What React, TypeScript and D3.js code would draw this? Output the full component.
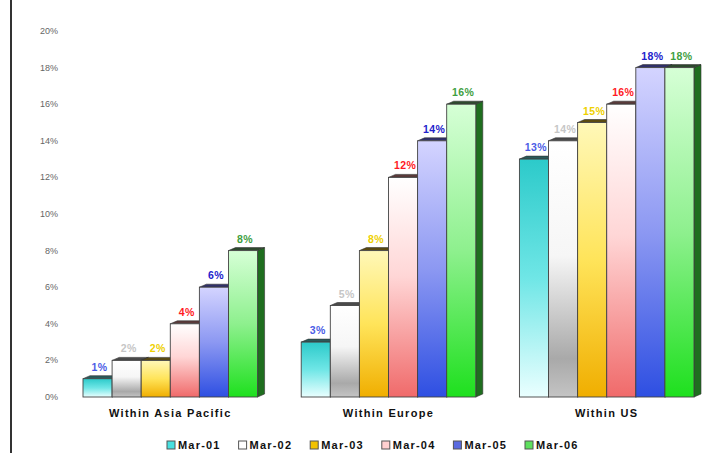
import React from "react";
import * as d3 from "d3";

const categories = ["Within Asia Pacific", "Within Europe", "Within US"];
const seriesNames = ["Mar-01", "Mar-02", "Mar-03", "Mar-04", "Mar-05", "Mar-06"];
// values in percent, one array per series, ordered like categories
const mar01 = [1, 3, 13];
const mar02 = [2, 5, 14];
const mar03 = [2, 8, 15];
const mar04 = [4, 12, 16];
const mar05 = [6, 14, 18];
const mar06 = [8, 16, 18];
const seriesValues = [mar01, mar02, mar03, mar04, mar05, mar06];
const yTicks = [0, 2, 4, 6, 8, 10, 12, 14, 16, 18, 20];

// gradient stops per series: [offset, colour]
const gradients: [number, string][][] = [
  [[0, "#2ccaca"], [0.5, "#6fe6e6"], [1, "#eaffff"]],
  [[0, "#ffffff"], [0.45, "#f6f6f6"], [0.85, "#a9a9a9"], [1, "#c4c4c4"]],
  [[0, "#fff8b8"], [0.5, "#ffe45a"], [1, "#f0ae00"]],
  [[0, "#ffffff"], [0.45, "#ffd6d6"], [1, "#f06a6a"]],
  [[0, "#d4d4ff"], [0.5, "#8c98f2"], [1, "#2e4fe2"]],
  [[0, "#d6ffd6"], [0.5, "#8ef08e"], [1, "#1ee01e"]],
];
const sideColors = ["#168a8a", "#707070", "#a07800", "#b04848", "#25359a", "#1f6e1f"];
const topColors = ["#2a5a5a", "#4a4a4a", "#5a4a10", "#5a3a3a", "#30306a", "#2e4a2e"];
const labelColors = ["#4b5ce6", "#c6c6c6", "#eed000", "#ff1a24", "#2222cc", "#3fa03f"];
const legendColors = ["#48e0e0", "#ffffff", "#f2c200", "#ffd0d0", "#5a6ae0", "#5ee05e"];

const W = 715;
const H = 453;
const DX = 7;
const DY = 3;

export default function App() {
  const y = d3.scaleLinear().domain([0, 20]).range([397, 31]);
  const x0 = d3.scaleBand<string>().domain(categories).range([83, 694]).paddingInner(0.2);
  const x1 = d3
    .scaleBand<string>()
    .domain(seriesNames)
    .range([0, x0.bandwidth()])
    .padding(0);
  const bw = x1.bandwidth();
  const font = "Arial, 'Liberation Sans', sans-serif";

  const legendStart = 167;
  const legendStep = 71.6;

  return (
    <svg
      width={W}
      height={H}
      style={{ position: "absolute", left: 0, top: 0, background: "#fff" }}
      fontFamily={font}
    >
      <defs>
        {gradients.map((stops, i) => (
          <linearGradient key={i} id={`g${i}`} x1="0" y1="0" x2="0" y2="1">
            {stops.map(([o, c], j) => (
              <stop key={j} offset={o} stopColor={c} />
            ))}
          </linearGradient>
        ))}
      </defs>

      {/* frame line on the left */}
      <line x1={11} x2={11} y1={0} y2={H} stroke="#333" strokeWidth={2} />

      {/* y axis tick labels */}
      {yTicks.map((t) => (
        <text
          key={t}
          x={58}
          y={y(t) + 3}
          textAnchor="end"
          fontSize={9}
          fill="#666"
        >
          {t}%
        </text>
      ))}

      {/* bars */}
      {categories.map((cat, ci) => (
        <g key={cat} transform={`translate(${x0(cat)},0)`}>
          {seriesNames.map((s, si) => {
            const v = seriesValues[si][ci];
            const bx = x1(s)!;
            const top = y(v);
            const base = y(0);
            return (
              <g key={s}>
                {/* right side face */}
                <path
                  d={`M${bx + bw},${top} L${bx + bw + DX},${top - DY} L${bx + bw + DX},${base - DY} L${bx + bw},${base} Z`}
                  fill={sideColors[si]}
                  stroke="#333"
                  strokeWidth={0.6}
                />
                {/* top face */}
                <path
                  d={`M${bx},${top} L${bx + DX},${top - DY} L${bx + bw + DX},${top - DY} L${bx + bw},${top} Z`}
                  fill={topColors[si]}
                  stroke="#333"
                  strokeWidth={0.6}
                />
                {/* front face */}
                <rect
                  x={bx}
                  y={top}
                  width={bw}
                  height={base - top}
                  fill={`url(#g${si})`}
                  stroke="#444"
                  strokeWidth={0.9}
                />
              </g>
            );
          })}
          {seriesNames.map((s, si) => {
            const v = seriesValues[si][ci];
            return (
              <text
                key={`l${s}`}
                x={x1(s)! + bw / 2 + 2}
                y={y(v) - 8}
                textAnchor="middle"
                fontSize={10.5}
                fontWeight="bold"
                letterSpacing={0.4}
                fill={labelColors[si]}
              >
                {v}%
              </text>
            );
          })}
          <text
            x={x0.bandwidth() / 2}
            y={417}
            textAnchor="middle"
            fontSize={11}
            fontWeight="bold"
            letterSpacing={1.3}
            fill="#111"
          >
            {cat}
          </text>
        </g>
      ))}

      {/* legend */}
      {seriesNames.map((s, si) => {
        const lx = legendStart + si * legendStep;
        return (
          <g key={s} transform={`translate(${lx},445)`}>
            <rect
              x={0}
              y={-4}
              width={8}
              height={8}
              fill={legendColors[si]}
              stroke="#555"
              strokeWidth={1}
            />
            <text
              x={11}
              y={4}
              fontSize={11}
              fontWeight="bold"
              letterSpacing={1.2}
              fill="#111"
            >
              {s}
            </text>
          </g>
        );
      })}
    </svg>
  );
}
